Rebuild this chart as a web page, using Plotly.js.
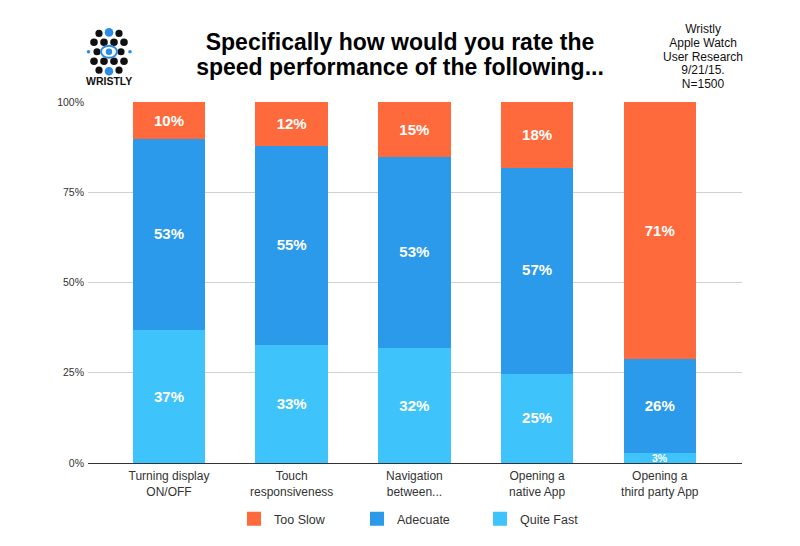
<!DOCTYPE html>
<html>
<head>
<meta charset="utf-8">
<script src="https://cdn.plot.ly/plotly-3.0.1.min.js"></script>
<style>html,body{margin:0;padding:0;background:#fff;}#chart{width:800px;height:546px;}</style>
</head>
<body>
<div id="chart"></div>
<script>
var categories = ["Turning display<br>ON/OFF", "Touch<br>responsiveness", "Navigation<br>between...", "Opening a<br>native App", "Opening a<br>third party App"];
var quiteFast = [37, 33, 32, 25, 3];
var adecuate = [53, 55, 53, 57, 26];
var tooSlow = [10, 12, 15, 18, 71];
var yTickVals = [0, 25, 50, 75, 100];
var titleLines = ["Specifically how would you rate the", "speed performance of the following..."];
var infoLines = ["Wristly", "Apple Watch", "User Research", "9/21/15.", "N=1500"];

var FONT = "Liberation Sans, Arial, Helvetica, sans-serif";
var L = 88, R = 742, T = 102, B = 465;
function px(x) { return (x - L) / (R - L); }
function py(y) { return (B - y) / (B - T); }
// tight multi-line text: glyphs at `size`, lines spaced by the (smaller) outer font size
function tight(lines, size, bold) {
  return lines.map(function (t) {
    var s = '<span style="font-size:' + size + 'px">' + t + '</span>';
    return bold ? '<b>' + s + '</b>' : s;
  }).join('<br>');
}

var SMALL = 5;
function bar(name, vals, color) {
  return {
    type: "bar", name: name, x: [0,1,2,3,4], y: vals,
    marker: {color: color, line: {color: color, width: 2}},
    width: 0.575,
    text: vals.map(function (v) { return v < SMALL ? "" : v + "%"; }),
    textposition: "inside", insidetextanchor: "middle",
    textfont: {color: "#ffffff", size: 15, family: FONT, weight: "bold"},
    hoverinfo: "name+y"
  };
}

var data = [
  bar("Quite Fast", quiteFast, "#3fc3fb"),
  bar("Adecuate", adecuate, "#2b9aeb"),
  bar("Too Slow", tooSlow, "#ff6a3d")
];

var shapes = [];
function dot(cx, cy, r, color) {
  shapes.push({type: "circle", xref: "paper", yref: "paper",
    x0: px(cx - r), x1: px(cx + r), y0: py(cy + r), y1: py(cy - r),
    fillcolor: color, line: {width: 0}});
}
var K = "#111111", BL = "#2b8be6";
dot(99, 33, 3.6, K); dot(109, 32, 4.3, BL); dot(119, 33, 3.6, K);
[94, 104, 114, 124].forEach(function (x) { dot(x, 42, 3.8, K); dot(x, 61, 3.8, K); });
dot(88.5, 51.5, 1.8, BL); dot(97, 51.5, 3.6, K);
dot(121, 51.5, 3.6, K); dot(130, 51.5, 1.8, BL);
dot(99, 70, 3.6, K); dot(109, 71, 4.3, BL); dot(119, 70, 3.6, K);
shapes.push({type: "circle", xref: "paper", yref: "paper",
  x0: px(101), x1: px(117), y0: py(57.5), y1: py(45.5),
  fillcolor: "rgba(0,0,0,0)", line: {color: BL, width: 2}});
dot(109, 51.5, 3.2, BL);

var annotations = [
  {text: "<b>WRISTLY</b>", xref: "paper", yref: "paper", x: px(109), y: py(81),
    xanchor: "center", yanchor: "middle", showarrow: false, font: {size: 10.5, color: "#111111"}},
  {text: tight(infoLines, 12, false), xref: "paper", yref: "paper", x: px(703), y: py(56),
    xanchor: "center", yanchor: "middle", showarrow: false,
    font: {size: 10.6, color: "#111111"}}
];
quiteFast.forEach(function (v, i) {
  if (v < SMALL) {
    annotations.push({text: "<b>" + v + "%</b>", xref: "x", yref: "y", x: i, y: v / 2,
      xanchor: "center", yanchor: "middle", showarrow: false,
      font: {size: 10.5, color: "#ffffff"}});
  }
});

var layout = {
  width: 800, height: 546,
  margin: {l: L, r: 800 - R, t: T, b: 546 - B},
  paper_bgcolor: "#ffffff", plot_bgcolor: "#ffffff",
  font: {family: FONT, color: "#333333", size: 12},
  barmode: "stack",
  showlegend: true,
  legend: {orientation: "h", x: px(234), xanchor: "left", y: py(521.5), yanchor: "middle",
    traceorder: "reversed", entrywidth: 78, itemwidth: 30, font: {size: 12.5, color: "#333333"}},
  title: {text: tight(titleLines, 23, true),
    x: 0.5, xanchor: "center", y: 1 - 49.5 / 546, yanchor: "middle",
    font: {size: 19.5, color: "#000000", family: FONT}},
  xaxis: {range: [-0.66, 4.67], tickvals: [0,1,2,3,4], ticktext: categories,
    showgrid: false, zeroline: false, showline: false, ticks: "",
    ticklabelstandoff: 4,
    tickfont: {size: 12, color: "#333333"}, fixedrange: true},
  yaxis: {range: [0, 100], tickvals: yTickVals, ticktext: yTickVals.map(function (v) { return v + "%"; }),
    showgrid: true, gridcolor: "#d0d0d0", gridwidth: 1, zeroline: true, zerolinecolor: "#333333", zerolinewidth: 1,
    showline: false, ticks: "", ticklabelstandoff: 3, tickfont: {size: 10.5, color: "#333333"}, fixedrange: true},
  shapes: shapes,
  annotations: annotations
};

Plotly.newPlot("chart", data, layout, {displayModeBar: false, staticPlot: true});
</script>
</body>
</html>
